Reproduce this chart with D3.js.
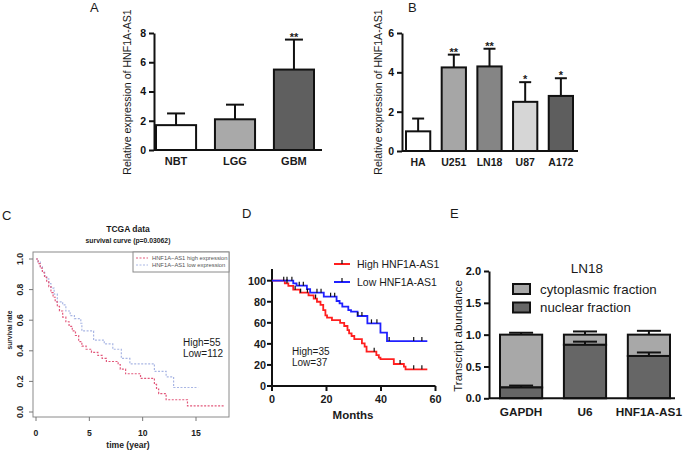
<!DOCTYPE html>
<html><head><meta charset="utf-8">
<script src="https://cdn.jsdelivr.net/npm/d3@7/dist/d3.min.js"></script>
<style>body{margin:0;background:#fff}</style>
</head><body>
<script>
// ---------- DATA ----------
const catsA = ["NBT", "LGG", "GBM"];
const valsA = [1.7, 2.1, 5.5];
const errA  = [2.5, 3.1, 7.55];
const starsA = ["", "", "**"];
const colorsA = ["#ffffff", "#a9a9a9", "#5f5f5f"];
const ticksA = [0, 2, 4, 6, 8];

const catsB = ["HA", "U251", "LN18", "U87", "A172"];
const valsB = [1.0, 4.25, 4.3, 2.5, 2.8];
const errB  = [1.65, 4.9, 5.2, 3.5, 3.7];
const starsB = ["", "**", "**", "*", "*"];
const colorsB = ["#ffffff", "#a6a6a6", "#858585", "#d6d6d6", "#5e5e5e"];
const ticksB = [0, 2, 4, 6];

// Panel C (TCGA Kaplan-Meier, years)
const cHighT = [0, .2, .4, .6, .8, 1.0, 1.2, 1.4, 1.6, 1.8, 2.0, 2.2, 2.5, 2.8, 3.1, 3.4, 3.7, 4.0, 4.3, 4.7, 5.2, 5.8, 6.2, 6.6, 7.7, 7.9, 8.4, 9.8, 11.1, 11.3, 11.5, 12.2, 14.2, 17.7];
const cHighS = [1, .97, .94, .91, .88, .85, .82, .78, .75, .72, .69, .66, .62, .59, .56, .53, .50, .46, .43, .41, .39, .37, .35, .33, .31, .28, .25, .22, .18, .15, .12, .08, .04, .04];
const cLowT = [0, .2, .4, .6, .8, 1.0, 1.2, 1.4, 1.7, 2.0, 2.5, 2.8, 3.2, 3.6, 4.2, 4.3, 5.4, 6.4, 7.2, 8.0, 8.8, 11.1, 12.2, 12.9, 15.2];
const cLowS = [1, .98, .95, .92, .89, .87, .84, .81, .77, .72, .70, .66, .63, .61, .58, .53, .47, .445, .41, .35, .315, .265, .23, .16, .16];
const cTicksX = [0, 5, 10, 15];
const cTicksY = [0, 0.2, 0.4, 0.6, 0.8, 1.0];

// Panel D (months)
const dHighT = [0, 4.7, 6, 7.8, 10.3, 13.4, 15.3, 16.5, 17.8, 18.8, 19.6, 20.2, 22, 25, 26.5, 27.7, 28.3, 29.2, 30.2, 33, 34, 34.7, 38.3, 39.2, 39.8, 44.7, 48.4, 49, 57];
const dHighV = [100, 97.5, 95, 91.5, 88.6, 86, 83, 80, 77, 72, 67, 65, 62.5, 60, 57, 53, 50, 47.5, 44.5, 40.5, 37.3, 32.6, 29.4, 27, 25.6, 20.9, 18.4, 15.8, 15.8];
const dLowT = [0, 7.8, 9, 12.8, 14, 19, 23.7, 24.8, 25.8, 28, 29, 31.4, 35, 39.8, 42.2, 57];
const dLowV = [100, 97.5, 95.3, 92, 88.6, 84.8, 80.7, 78.5, 75.3, 72, 70.6, 66.5, 59.5, 50.6, 42.7, 42.7];
const dHighCensor = [5.5, 8.5, 10.5, 13, 16, 37.5, 47, 52, 55];
const dLowCensor = [4.3, 5.5, 7.3, 10, 11.5, 16.5, 18, 21.5, 23, 31.5, 33, 36.5, 38.5, 43, 52, 55];
const dTicksX = [0, 20, 40, 60];
const dTicksY = [0, 20, 40, 60, 80, 100];

// Panel E
const catsE = ["GAPDH", "U6", "HNF1A-AS1"];
const nucE = [0.17, 0.84, 0.665];
const nucErrE = [0.2, 0.89, 0.72];
const totE = [1.0, 1.0, 1.0];
const totErrE = [1.03, 1.05, 1.06];
const ticksE = [0, 0.5, 1.0, 1.5, 2.0];
const legendE = ["cytoplasmic fraction", "nuclear fraction"];
const colorsE = ["#a8a8a8", "#666666"];

// ---------- DRAW ----------
const FONT = "'Liberation Sans', Arial, Helvetica, sans-serif";
const svg = d3.select("body").append("svg").attr("width", 685).attr("height", 452)
  .attr("font-family", FONT);
svg.append("rect").attr("width", 685).attr("height", 452).attr("fill", "#fff");

function txt(g, x, y, s, size, opts = {}) {
  const t = g.append("text").attr("x", x).attr("y", y).text(s)
    .attr("font-size", size).attr("fill", opts.fill || "#1a1a1a")
    .attr("text-anchor", opts.anchor || "start");
  if (opts.bold) t.attr("font-weight", "bold");
  if (opts.rot) t.attr("transform", `rotate(-90,${x},${y})`);
  return t;
}

function prismYAxis(y, x0, ticks, fmt, size) {
  const ax = d3.axisLeft(y).tickValues(ticks).tickSize(5).tickSizeOuter(0).tickPadding(3).tickFormat(fmt);
  const a = svg.append("g").attr("transform", `translate(${x0},0)`).call(ax);
  a.select(".domain").attr("stroke", "#111").attr("stroke-width", 2);
  a.selectAll(".tick line").attr("stroke", "#111").attr("stroke-width", 2);
  a.selectAll(".tick text").attr("font-family", FONT).attr("font-weight", "bold")
    .attr("font-size", size).attr("fill", "#111");
  return a;
}

function barPanel(cats, vals, errs, stars, colors, ticks, cfg) {
  const x = d3.scaleBand().domain(cats).range(cfg.xr).paddingInner(cfg.pad).paddingOuter(0);
  const y = d3.scaleLinear().domain([0, ticks[ticks.length - 1]]).range(cfg.yr);
  prismYAxis(y, cfg.axisX, ticks, d3.format("d"), 10.5);
  const g = svg.append("g");
  cats.forEach((c, i) => {
    const cx = x(c) + x.bandwidth() / 2;
    g.append("line").attr("x1", cx).attr("x2", cx).attr("y1", y(vals[i])).attr("y2", y(errs[i]))
      .attr("stroke", "#111").attr("stroke-width", 2);
    g.append("line").attr("x1", cx - cfg.cap / 2).attr("x2", cx + cfg.cap / 2)
      .attr("y1", y(errs[i])).attr("y2", y(errs[i])).attr("stroke", "#111").attr("stroke-width", 2);
    g.append("rect").attr("x", x(c)).attr("y", y(vals[i])).attr("width", x.bandwidth())
      .attr("height", y(0) - y(vals[i])).attr("fill", colors[i]).attr("stroke", "#111").attr("stroke-width", 2);
    if (stars[i]) txt(g, cx, y(errs[i]) + 1, stars[i], 11, { anchor: "middle", bold: true });
    txt(g, cx, cfg.labY, c, cfg.labSize, { anchor: "middle", bold: true });
  });
  g.append("line").attr("x1", cfg.axisX).attr("x2", cfg.xEnd).attr("y1", y(0)).attr("y2", y(0))
    .attr("stroke", "#111").attr("stroke-width", 2);
  txt(g, cfg.ylabX, 92, "Relative expression of HNF1A-AS1", 10.6, { anchor: "middle", rot: true });
}

// Panel A
barPanel(catsA, valsA, errA, starsA, colorsA, ticksA,
  { xr: [156, 314], pad: 0.32, yr: [150, 33], axisX: 154, xEnd: 322, cap: 18, labY: 165, labSize: 11, ylabX: 131 });
txt(svg, 90, 12, "A", 13);

// Panel B
barPanel(catsB, valsB, errB, starsB, colorsB, ticksB,
  { xr: [406, 573], pad: 0.32, yr: [151, 33], axisX: 402, xEnd: 578, cap: 12, labY: 166, labSize: 10.5, ylabX: 382 });
txt(svg, 408, 12, "B", 13);

// Panel C
(function () {
  const g = svg.append("g");
  const x = d3.scaleLinear().domain([0, 15]).range([36, 196]);
  const y = d3.scaleLinear().domain([0, 1]).range([412, 259]);
  txt(g, 2, 220, "C", 13);
  txt(g, 128, 232, "TCGA data", 8.5, { anchor: "middle", bold: true });
  txt(g, 128, 243, "survival curve (p=0.03062)", 6.8, { anchor: "middle", bold: true });
  g.append("rect").attr("x", 33).attr("y", 252).attr("width", 196).attr("height", 165)
    .attr("fill", "none").attr("stroke", "#8a8a8a").attr("stroke-width", 1);
  cTicksY.forEach(v => {
    g.append("line").attr("x1", 29).attr("x2", 33).attr("y1", y(v)).attr("y2", y(v)).attr("stroke", "#777");
    txt(g, 23, y(v), d3.format(".1f")(v), 8.6, { anchor: "middle", bold: true, rot: true, fill: "#222" });
  });
  cTicksX.forEach(v => {
    g.append("line").attr("x1", x(v)).attr("x2", x(v)).attr("y1", 417).attr("y2", 421).attr("stroke", "#777");
    txt(g, x(v), 436, String(v), 8.6, { anchor: "middle", bold: true, fill: "#222" });
  });
  txt(g, 12, 330, "survival rate", 6.6, { anchor: "middle", bold: true, rot: true, fill: "#222" });
  txt(g, 128, 448, "time (year)", 8.6, { anchor: "middle", bold: true, fill: "#222" });
  const line = d3.line().x(d => x(d[0])).y(d => y(d[1])).curve(d3.curveStepAfter);
  g.append("path").datum(cLowT.map((t, i) => [t, cLowS[i]])).attr("d", line)
    .attr("fill", "none").attr("stroke", "#a9b6e4").attr("stroke-width", 1.2).attr("stroke-dasharray", "2,1.5");
  g.append("path").datum(cHighT.map((t, i) => [t, cHighS[i]])).attr("d", line)
    .attr("fill", "none").attr("stroke", "#e2587b").attr("stroke-width", 1.2).attr("stroke-dasharray", "2,1.5");
  // legend
  g.append("rect").attr("x", 133).attr("y", 252).attr("width", 96).attr("height", 20)
    .attr("fill", "#fff").attr("stroke", "#8a8a8a");
  const leg = [["HNF1A\u2212AS1 high expression", "#e2587b"], ["HNF1A\u2212AS1 low expression", "#a9b6e4"]];
  leg.forEach((l, i) => {
    g.append("line").attr("x1", 136).attr("x2", 148).attr("y1", 258 + i * 7).attr("y2", 258 + i * 7)
      .attr("stroke", l[1]).attr("stroke-dasharray", "2,1.5");
    txt(g, 152, 260 + i * 7, l[0], 5.8, { fill: "#555" });
  });
  txt(g, 183, 346, "High=55", 10);
  txt(g, 183, 357, "Low=112", 10);
})();

// Panel D
(function () {
  const g = svg.append("g");
  const x = d3.scaleLinear().domain([0, 60]).range([272, 435.5]);
  const y = d3.scaleLinear().domain([0, 100]).range([386, 280.7]);
  txt(g, 242, 218, "D", 13);
  g.append("line").attr("x1", 272).attr("x2", 272).attr("y1", y(0)).attr("y2", y(111))
    .attr("stroke", "#111").attr("stroke-width", 2);
  dTicksY.forEach(v => {
    g.append("line").attr("x1", 267).attr("x2", 272).attr("y1", y(v)).attr("y2", y(v)).attr("stroke", "#111").attr("stroke-width", 2);
    txt(g, 266, y(v) + 4, String(v), 10.8, { anchor: "end", bold: true });
  });
  g.append("line").attr("x1", 271).attr("x2", 435.5).attr("y1", 386).attr("y2", 386)
    .attr("stroke", "#111").attr("stroke-width", 2);
  dTicksX.forEach(v => {
    g.append("line").attr("x1", x(v)).attr("x2", x(v)).attr("y1", 386).attr("y2", 391).attr("stroke", "#111").attr("stroke-width", 2);
    txt(g, x(v), 403, String(v), 10.8, { anchor: "middle", bold: true });
  });
  txt(g, 353, 419, "Months", 11.5, { anchor: "middle", bold: true });
  const line = d3.line().x(d => x(d[0])).y(d => y(d[1])).curve(d3.curveStepAfter);
  const stepVal = (T, V, t) => { let v = V[0]; T.forEach((tt, i) => { if (tt <= t) v = V[i]; }); return v; };
  const series = [[dHighT, dHighV, dHighCensor, "#ff1f1f"], [dLowT, dLowV, dLowCensor, "#2020ff"]];
  series.forEach(s => {
    g.append("path").datum(s[0].map((t, i) => [t, s[1][i]])).attr("d", line)
      .attr("fill", "none").attr("stroke", s[3]).attr("stroke-width", 1.8);
  });
  series.forEach(s => {
    s[2].forEach(t => {
      const v = stepVal(s[0], s[1], t);
      g.append("line").attr("x1", x(t)).attr("x2", x(t)).attr("y1", y(v)).attr("y2", y(v) - 4)
        .attr("stroke", "#111").attr("stroke-width", 1.2);
    });
  });
  const leg = [["High HNF1A-AS1", "#ff1f1f"], ["Low HNF1A-AS1", "#2020ff"]];
  leg.forEach((l, i) => {
    const ly = 264 + i * 18;
    g.append("line").attr("x1", 334).attr("x2", 350).attr("y1", ly).attr("y2", ly).attr("stroke", l[1]).attr("stroke-width", 2);
    g.append("line").attr("x1", 342).attr("x2", 342).attr("y1", ly).attr("y2", ly - 4).attr("stroke", "#111").attr("stroke-width", 1.2);
    txt(g, 357, ly + 4, l[0], 10.5);
  });
  txt(g, 292, 355, "High=35", 10);
  txt(g, 292, 366, "Low=37", 10);
})();

// Panel E
(function () {
  const g = svg.append("g");
  const x = d3.scaleBand().domain(catsE).range([500, 670]).paddingInner(0.34).paddingOuter(0);
  const y = d3.scaleLinear().domain([0, 2]).range([398.3, 271]);
  txt(g, 450, 218, "E", 13);
  prismYAxis(y, 489, ticksE, d3.format(".1f"), 11);
  catsE.forEach((c, i) => {
    const cx = x(c) + x.bandwidth() / 2;
    const errs = [[totE[i], totErrE[i]], [nucE[i], nucErrE[i]]];
    g.append("rect").attr("x", x(c)).attr("y", y(totE[i])).attr("width", x.bandwidth())
      .attr("height", y(nucE[i]) - y(totE[i])).attr("fill", colorsE[0]).attr("stroke", "#111").attr("stroke-width", 2);
    g.append("rect").attr("x", x(c)).attr("y", y(nucE[i])).attr("width", x.bandwidth())
      .attr("height", y(0) - y(nucE[i])).attr("fill", colorsE[1]).attr("stroke", "#111").attr("stroke-width", 2);
    errs.forEach(e => {
      g.append("line").attr("x1", cx).attr("x2", cx).attr("y1", y(e[0])).attr("y2", y(e[1])).attr("stroke", "#111").attr("stroke-width", 2);
      g.append("line").attr("x1", cx - 12).attr("x2", cx + 12).attr("y1", y(e[1])).attr("y2", y(e[1])).attr("stroke", "#111").attr("stroke-width", 2);
    });
    txt(g, cx, 416, c, 11.8, { anchor: "middle", bold: true });
  });
  g.append("line").attr("x1", 489).attr("x2", 675).attr("y1", y(0)).attr("y2", y(0)).attr("stroke", "#111").attr("stroke-width", 2);
  txt(g, 462, 336, "Transcript abundance", 11.6, { anchor: "middle", rot: true });
  txt(g, 587, 273, "LN18", 13.5, { anchor: "middle" });
  legendE.forEach((l, i) => {
    g.append("rect").attr("x", 513).attr("y", 284 + i * 18.5).attr("width", 17).attr("height", 10)
      .attr("fill", colorsE[i]).attr("stroke", "#111").attr("stroke-width", 2);
    txt(g, 540, 293.5 + i * 18.5, l, 13.3);
  });
})();
</script>
</body></html>
